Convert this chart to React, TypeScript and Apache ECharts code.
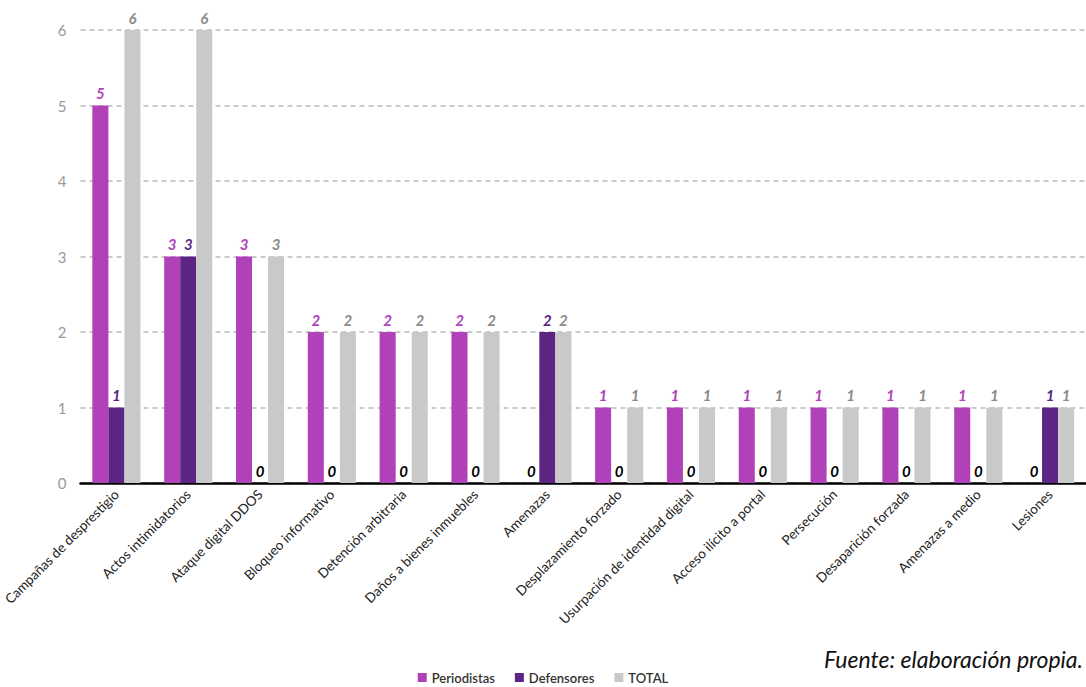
import React, { useEffect, useRef } from "react";
import * as echarts from "echarts";

const categories = [
  "Campañas de desprestigio",
  "Actos intimidatorios",
  "Ataque digital DDOS",
  "Bloqueo informativo",
  "Detención arbitraria",
  "Daños a bienes inmuebles",
  "Amenazas",
  "Desplazamiento forzado",
  "Usurpación de identidad digital",
  "Acceso ilícito a portal",
  "Persecución",
  "Desaparición forzada",
  "Amenazas a medio",
  "Lesiones",
];
const periodistas = [5, 3, 3, 2, 2, 2, 0, 1, 1, 1, 1, 1, 1, 0];
const defensores = [1, 3, 0, 0, 0, 0, 2, 0, 0, 0, 0, 0, 0, 1];
const total = [6, 6, 3, 2, 2, 2, 2, 1, 1, 1, 1, 1, 1, 1];
const yTicks = [0, 1, 2, 3, 4, 5, 6];

const FONT = "Lato, 'Open Sans', sans-serif";

export default function App() {
  const ref = useRef<HTMLDivElement>(null);
  useEffect(() => {
    if (!ref.current) return;
    const chart = echarts.init(ref.current, null, { renderer: "svg" });
    const mk = (vals: number[], labelColor: string) =>
      vals.map((v) => ({
        value: v,
        label: { color: v === 0 ? "#000" : labelColor },
      }));
    const labelBase = {
      show: true,
      position: "top",
      distance: 5,
      fontFamily: FONT,
      fontStyle: "italic",
      fontWeight: "bold",
      fontSize: 15,
    };
    chart.setOption({
      animation: false,
      backgroundColor: "#fff",
      grid: { left: 80, right: -2, top: 30, bottom: 204, containLabel: false },
      legend: {
        bottom: -2,
        left: "center",
        itemWidth: 9,
        itemHeight: 9,
        itemGap: 20,
        icon: "rect",
        textStyle: { fontFamily: FONT, fontSize: 13, fontWeight: 600, color: "#333" },
        data: ["Periodistas", "Defensores", "TOTAL"],
      },
      graphic: [
        {
          type: "text",
          right: 3,
          top: 647,
          style: {
            text: "Fuente: elaboración propia.",
            font: "italic 23px Lato, 'Open Sans', sans-serif",
            fill: "#111",
          },
        },
      ],
      xAxis: {
        type: "category",
        data: categories,
        axisLine: { show: true, lineStyle: { color: "#000", width: 2.5 } },
        axisTick: { show: false },
        axisLabel: {
          interval: 0,
          rotate: 45,
          fontFamily: FONT,
          fontSize: 13.5,
          color: "#222",
          margin: 9,
        },
      },
      yAxis: {
        type: "value",
        min: 0,
        max: 6,
        interval: 1,
        axisLine: { show: false },
        axisTick: { show: false },
        axisLabel: {
          fontFamily: FONT,
          fontSize: 15,
          color: "#999",
          margin: 14,
          formatter: (v: number) => (yTicks.includes(v) ? String(v) : ""),
        },
        splitLine: { lineStyle: { color: "#bbb", type: [5, 4], width: 1.5 } },
      },
      series: [
        {
          name: "Periodistas",
          type: "bar",
          data: mk(periodistas, "#b041b8"),
          itemStyle: { color: "#b041b8" },
          barGap: "0%",
          barCategoryGap: "33%",
          label: labelBase,
        },
        {
          name: "Defensores",
          type: "bar",
          data: mk(defensores, "#5c2483"),
          itemStyle: { color: "#5c2483" },
          barGap: "0%",
          barCategoryGap: "33%",
          label: labelBase,
        },
        {
          name: "TOTAL",
          type: "bar",
          data: mk(total, "#8a8a8a"),
          itemStyle: { color: "#c9c9c9" },
          barGap: "0%",
          barCategoryGap: "33%",
          label: labelBase,
        },
      ],
    });
    return () => chart.dispose();
  }, []);
  return (
    <div
      ref={ref}
      style={{ position: "fixed", left: 0, top: 0, width: 1086, height: 687 }}
    />
  );
}
